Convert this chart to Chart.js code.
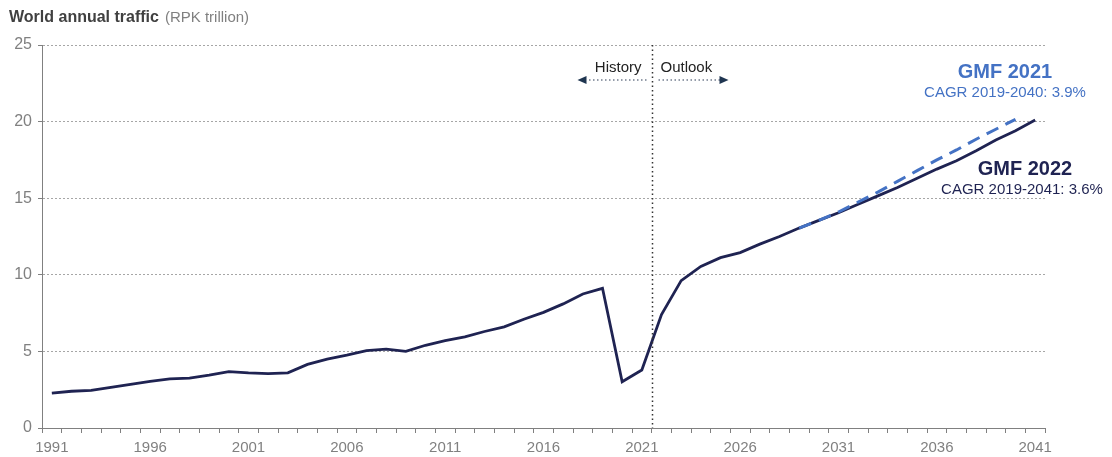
<!DOCTYPE html>
<html>
<head>
<meta charset="utf-8">
<script src="https://cdn.jsdelivr.net/npm/chart.js@4.4.1/dist/chart.umd.min.js"></script>
<style>
  html, body { margin: 0; padding: 0; background: #fff; }
  #wrap { width: 1112px; height: 457px; }
</style>
</head>
<body>
<div id="wrap"><canvas id="trafficChart" width="1112" height="457"></canvas></div>
<script>
// categories
const years = [
  "1991", "1992", "1993", "1994", "1995", "1996", "1997", "1998", "1999", "2000",
  "2001", "2002", "2003", "2004", "2005", "2006", "2007", "2008", "2009", "2010",
  "2011", "2012", "2013", "2014", "2015", "2016", "2017", "2018", "2019", "2020",
  "2021", "2022", "2023", "2024", "2025", "2026", "2027", "2028", "2029", "2030",
  "2031", "2032", "2033", "2034", "2035", "2036", "2037", "2038", "2039", "2040",
  "2041",
];

// GMF 2022 (history + outlook), RPK trillion
const gmf2022 = [
  2.28, 2.4, 2.45, 2.65, 2.85, 3.05, 3.2, 3.25, 3.45, 3.68,
  3.6, 3.55, 3.6, 4.15, 4.5, 4.75, 5.05, 5.15, 5.0, 5.4,
  5.7, 5.95, 6.3, 6.6, 7.1, 7.55, 8.1, 8.75, 9.12, 3.02,
  3.79, 7.4, 9.62, 10.55, 11.12, 11.45, 12.0, 12.5, 13.05, 13.55,
  14.05, 14.6, 15.15, 15.7, 16.3, 16.9, 17.45, 18.1, 18.8, 19.4,
  20.1,
];

// GMF 2021 outlook (dashed), only where it departs from GMF 2022
const gmf2021 = [
  null, null, null, null, null, null, null, null, null, null,
  null, null, null, null, null, null, null, null, null, null,
  null, null, null, null, null, null, null, null, null, null,
  null, null, null, null, null, null, null, null, 13.05, 13.55,
  14.1, 14.75, 15.4, 16.1, 16.8, 17.5, 18.15, 18.85, 19.5, 20.15,
  null,
];

const yTicks = [0, 5, 10, 15, 20, 25];
const labelEvery = 5;
const splitAfter = "2021"; // History | Outlook boundary

const FONT = "'Liberation Sans', Arial, sans-serif";
const NAVY = "#1f2352";
const BLUE = "#4472c4";
const GREY = "#808080";

// Заголовок, стрелки History/Outlook и подписи GMF
const annotations = {
  id: "annotations",
  afterDraw(chart) {
    const ctx = chart.ctx;
    const x = chart.scales.x;
    const area = chart.chartArea;
    const i = years.indexOf(splitAfter);
    const splitX = Math.round((x.getPixelForValue(i) + x.getPixelForValue(i + 1)) / 2) + 0.5;

    ctx.save();

    // title
    ctx.textBaseline = "alphabetic";
    ctx.textAlign = "left";
    ctx.font = "bold 16px " + FONT;
    ctx.fillStyle = "#404040";
    const t1 = "World annual traffic";
    ctx.fillText(t1, 9, 22);
    const w1 = ctx.measureText(t1).width;
    ctx.font = "15px " + FONT;
    ctx.fillStyle = GREY;
    ctx.fillText("(RPK trillion)", 9 + w1 + 6, 22);

    // vertical dotted line
    ctx.strokeStyle = "#333";
    ctx.lineWidth = 1.5;
    ctx.setLineDash([1.5, 3]);
    ctx.beginPath();
    ctx.moveTo(splitX, area.top);
    ctx.lineTo(splitX, area.bottom);
    ctx.stroke();

    // arrows
    const ay = 80;
    ctx.strokeStyle = "#2b3a55";
    ctx.lineWidth = 1.2;
    ctx.setLineDash([1.5, 2.5]);
    ctx.beginPath();
    ctx.moveTo(splitX - 6, ay);
    ctx.lineTo(splitX - 66, ay);
    ctx.moveTo(splitX + 6, ay);
    ctx.lineTo(splitX + 68, ay);
    ctx.stroke();
    ctx.setLineDash([]);
    ctx.fillStyle = "#1f3550";
    ctx.beginPath();
    ctx.moveTo(splitX - 75, ay);
    ctx.lineTo(splitX - 66, ay - 4);
    ctx.lineTo(splitX - 66, ay + 4);
    ctx.closePath();
    ctx.fill();
    ctx.beginPath();
    ctx.moveTo(splitX + 76, ay);
    ctx.lineTo(splitX + 67, ay - 4);
    ctx.lineTo(splitX + 67, ay + 4);
    ctx.closePath();
    ctx.fill();

    ctx.font = "15px " + FONT;
    ctx.fillStyle = "#222";
    ctx.textAlign = "right";
    ctx.fillText("History", splitX - 11, 72);
    ctx.textAlign = "left";
    ctx.fillText("Outlook", splitX + 8, 72);

    // GMF labels
    ctx.textAlign = "center";
    ctx.fillStyle = BLUE;
    ctx.font = "bold 20px " + FONT;
    ctx.fillText("GMF 2021", 1005, 78);
    ctx.font = "15px " + FONT;
    ctx.fillText("CAGR 2019-2040: 3.9%", 1005, 97);

    ctx.fillStyle = NAVY;
    ctx.font = "bold 20px " + FONT;
    ctx.fillText("GMF 2022", 1025, 175);
    ctx.font = "15px " + FONT;
    ctx.fillText("CAGR 2019-2041: 3.6%", 1022, 194);

    ctx.restore();
  },
};

new Chart(document.getElementById("trafficChart"), {
  type: "line",
  data: {
    labels: years,
    datasets: [
      {
        label: "GMF 2021",
        data: gmf2021,
        borderColor: BLUE,
        borderWidth: 3,
        borderDash: [13, 8],
        pointRadius: 0,
        tension: 0,
        spanGaps: false,
      },
      {
        label: "GMF 2022",
        data: gmf2022,
        borderColor: NAVY,
        borderWidth: 2.8,
        pointRadius: 0,
        tension: 0,
      },
    ],
  },
  options: {
    responsive: false,
    animation: false,
    layout: { padding: { left: 0, top: 45, right: 67, bottom: 0 } },
    plugins: {
      legend: { display: false },
      tooltip: { enabled: false },
    },
    scales: {
      x: {
        offset: true,
        grid: {
          offset: true,
          drawOnChartArea: false,
          drawTicks: true,
          tickLength: 5,
          color: GREY,
        },
        border: { color: GREY, width: 1 },
        ticks: {
          autoSkip: false,
          maxRotation: 0,
          padding: 6,
          color: GREY,
          font: { family: FONT, size: 15 },
          callback: function (value, index) {
            return index % labelEvery === 0 ? years[index] : "";
          },
        },
        afterFit: (s) => { s.height = 29; },
      },
      y: {
        min: 0,
        max: 25,
        afterBuildTicks: (s) => { s.ticks = yTicks.map((v) => ({ value: v })); },
        grid: {
          color: "#a6a6a6",
          tickColor: GREY,
          tickLength: 4,
          lineWidth: 1,
        },
        border: { color: GREY, width: 1, dash: [2, 2] },
        ticks: {
          padding: 6,
          color: GREY,
          font: { family: FONT, size: 16 },
        },
        afterFit: (s) => { s.width = 42; },
      },
    },
  },
  plugins: [annotations],
});
</script>
</body>
</html>
